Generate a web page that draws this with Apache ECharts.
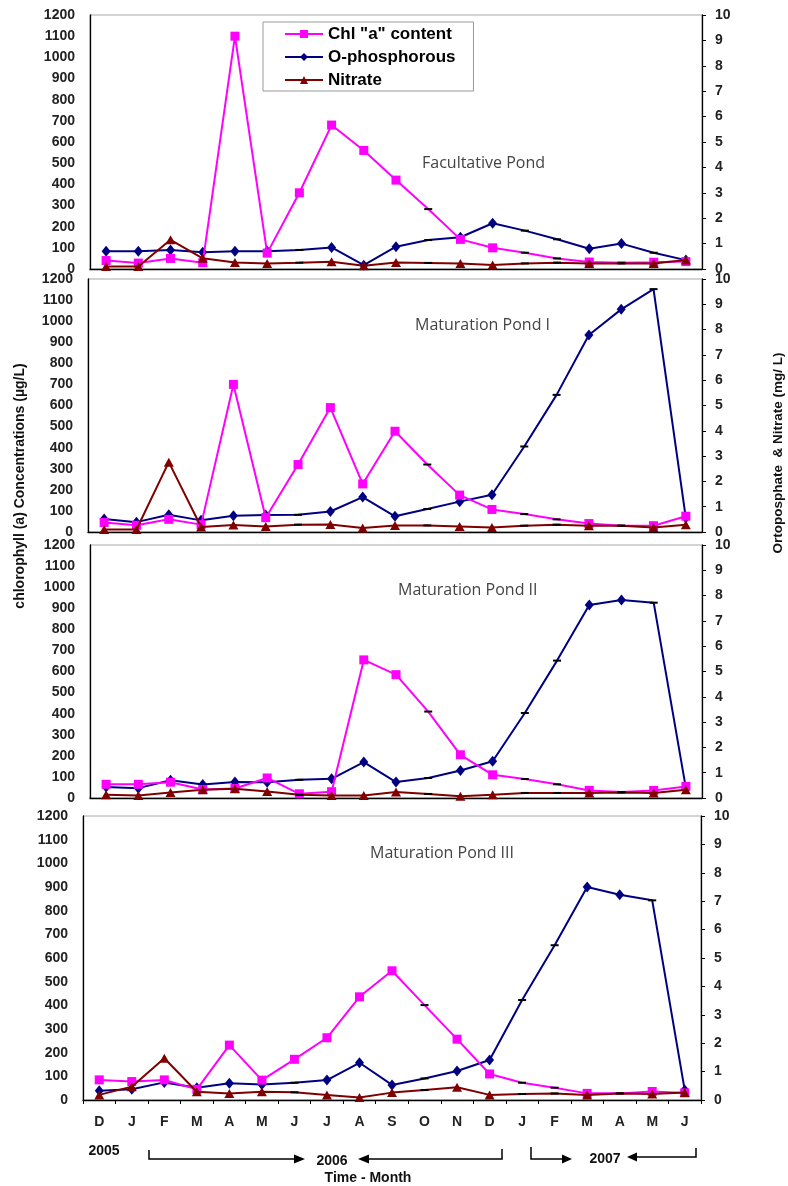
<!DOCTYPE html>
<html><head><meta charset="utf-8">
<script src="https://cdn.jsdelivr.net/npm/echarts@6/dist/echarts.min.js"></script>
<style>html,body{margin:0;padding:0;background:#fff}#c{width:788px;height:1186px}</style>
</head><body><div id="c"></div>
<script>
// ---- data ----
const months = ['D','J','F','M','A','M','J','J','A','S','O','N','D','J','F','M','A','M','J'];
const pondNames = ['Facultative Pond','Maturation Pond I','Maturation Pond II','Maturation Pond III'];
const seriesNames = ['Chl "a" content','O-phosphorous','Nitrate'];

const chlFac  = [40, 28, 50, 30, 1100, 75, 360, 680, 560, 420, 283, 140, 100, 77, 50, 33, 30, 32, 35];
const phosFac = [0.7, 0.7, 0.75, 0.66, 0.7, 0.7, 0.75, 0.85, 0.15, 0.88, 1.14, 1.25, 1.8, 1.51, 1.17, 0.8, 1.0, 0.64, 0.35];
const nitFac  = [0.1, 0.1, 1.15, 0.42, 0.26, 0.22, 0.25, 0.29, 0.13, 0.26, 0.24, 0.22, 0.16, 0.22, 0.25, 0.22, 0.22, 0.22, 0.35];

const chlM1  = [45, 32, 60, 35, 700, 68, 320, 590, 228, 478, 320, 175, 107, 85, 60, 40, 30, 30, 75];
const phosM1 = [0.51, 0.39, 0.68, 0.46, 0.64, 0.67, 0.68, 0.81, 1.38, 0.62, 0.91, 1.2, 1.47, 3.38, 5.42, 7.79, 8.8, 9.6, 0.55];
const nitM1  = [0.1, 0.1, 2.76, 0.2, 0.28, 0.22, 0.29, 0.3, 0.16, 0.26, 0.26, 0.22, 0.18, 0.25, 0.29, 0.25, 0.25, 0.18, 0.29];

const chlM2  = [65, 65, 75, 40, 45, 95, 20, 30, 655, 585, 410, 205, 110, 90, 65, 36, 28, 36, 55];
const phosM2 = [0.43, 0.39, 0.7, 0.53, 0.63, 0.62, 0.72, 0.76, 1.42, 0.63, 0.79, 1.09, 1.45, 3.36, 5.43, 7.63, 7.83, 7.72, 0.39];
const nitM2  = [0.13, 0.1, 0.22, 0.33, 0.37, 0.26, 0.13, 0.1, 0.1, 0.24, 0.16, 0.07, 0.13, 0.2, 0.2, 0.2, 0.22, 0.2, 0.33];

const chlM3  = [85, 78, 85, 45, 232, 84, 172, 263, 436, 546, 401, 257, 110, 73, 52, 28, 28, 36, 30];
const phosM3 = [0.33, 0.38, 0.62, 0.43, 0.59, 0.55, 0.61, 0.7, 1.31, 0.53, 0.76, 1.02, 1.41, 3.52, 5.45, 7.5, 7.23, 7.03, 0.35];
const nitM3  = [0.18, 0.47, 1.47, 0.29, 0.23, 0.29, 0.27, 0.18, 0.09, 0.26, 0.35, 0.45, 0.18, 0.21, 0.23, 0.18, 0.23, 0.21, 0.26];

// months without a measurement (drawn by the original as small dashes on the line)
const chlGapMonths  = [10, 13, 14, 16];
const phosGapMonths = [6, 10, 13, 14, 17];
const nitGapMonths  = [6, 10, 13, 14, 16];

const pondData = [
  [chlFac, phosFac, nitFac],
  [chlM1, phosM1, nitM1],
  [chlM2, phosM2, nitM2],
  [chlM3, phosM3, nitM3]
];

// ---- layout / style ----
const FONT = '"Liberation Sans", Arial, sans-serif';
const gridBoxes = [
  {left: 90, top: 15,  width: 612, height: 254},
  {left: 88, top: 279, width: 614, height: 253},
  {left: 90, top: 545, width: 612, height: 253},
  {left: 83, top: 816, width: 618, height: 284}
];
const titlePos = [[422, 163], [415, 325], [398, 590], [370, 853]];
const styles = [
  {color: '#FF00FF', symbol: 'rect', size: 9, gaps: chlGapMonths, axis: 0, z: 3},
  {color: '#000080', symbol: 'diamond', size: [9, 11], gaps: phosGapMonths, axis: 1, z: 2},
  {color: '#800000', symbol: 'triangle', size: [10, 9], gaps: nitGapMonths, axis: 1, z: 4}
];
const plain = v => String(v);

const grid = [], xAxis = [], yAxis = [], series = [];
gridBoxes.forEach((g, p) => {
  grid.push(Object.assign({show: true, borderColor: '#a8a8a8', borderWidth: 1, backgroundColor: 'transparent'}, g));
  const last = p === 3;
  xAxis.push({
    type: 'category', gridIndex: p, data: months, boundaryGap: true,
    axisLine: {lineStyle: {color: '#000', width: 1.3}},
    axisTick: {show: last, interval: 0, length: 4, lineStyle: {color: '#000'}},
    axisLabel: {show: last, interval: 0, margin: 15, fontFamily: FONT, fontWeight: 'bold', fontSize: 14, color: '#222'},
    splitLine: {show: false}
  });
  yAxis.push({
    type: 'value', gridIndex: p, position: 'left', min: 0, max: 1200, interval: 100,
    axisLine: {show: true, lineStyle: {color: '#000', width: 1.3}},
    axisTick: {show: false},
    axisLabel: {margin: 15, formatter: plain, fontFamily: FONT, fontWeight: 'bold', fontSize: 14, color: '#222'},
    splitLine: {show: false}
  });
  yAxis.push({
    type: 'value', gridIndex: p, position: 'right', min: 0, max: 10, interval: 1,
    axisLine: {show: true, lineStyle: {color: '#000', width: 1.3}},
    axisTick: {show: true, length: 4, lineStyle: {color: '#000'}},
    axisLabel: {margin: 13, formatter: plain, fontFamily: FONT, fontWeight: 'bold', fontSize: 14, color: '#222'},
    splitLine: {show: false}
  });
  pondData[p].forEach((vals, s) => {
    const st = styles[s];
    series.push({
      name: seriesNames[s], type: 'line',
      xAxisIndex: p, yAxisIndex: p * 2 + st.axis,
      z: st.z, showAllSymbol: true,
      symbol: st.symbol, symbolSize: st.size,
      lineStyle: {color: st.color, width: 2},
      itemStyle: {color: st.color, borderWidth: 0},
      emphasis: {disabled: true},
      data: vals.map((v, i) => st.gaps.includes(i)
        ? {value: v, symbol: 'rect', symbolSize: [8, 2], itemStyle: {color: '#000'}}
        : v)
    });
  });
});

const txt = (x, y, text, font, extra) => Object.assign({
  type: 'text', x: x, y: y, z: 20,
  style: {text: text, font: font, fill: '#111', align: 'center', verticalAlign: 'middle',
          textAlign: 'center', textVerticalAlign: 'middle'}
}, extra || {});
const graphic = [];
pondNames.forEach((n, p) => {
  graphic.push({type: 'text', x: titlePos[p][0], y: titlePos[p][1], z: 20,
    style: {text: n, font: '16px "Open Sans"', fill: '#444', align: 'left', verticalAlign: 'middle',
            textAlign: 'left', textVerticalAlign: 'middle'}});
});
graphic.push(txt(20, 486, 'chlorophyll (a) Concentrations (µg/L)', 'bold 14px ' + FONT, {rotation: Math.PI / 2}));
graphic.push(txt(778, 453, 'Ortoposphate  & Nitrate (mg/ L)', 'bold 13.5px ' + FONT, {rotation: Math.PI / 2}));
graphic.push(txt(104, 1151, '2005', 'bold 14px ' + FONT));
graphic.push(txt(332, 1161, '2006', 'bold 14px ' + FONT));
graphic.push(txt(605, 1159, '2007', 'bold 14px ' + FONT));
graphic.push(txt(368, 1178, 'Time - Month', 'bold 14px ' + FONT));
const line = pts => ({type: 'polyline', z: 20, shape: {points: pts}, style: {stroke: '#000', lineWidth: 1.5, fill: null}});
const head = pts => ({type: 'polygon', z: 20, shape: {points: pts}, style: {fill: '#000'}});
graphic.push(line([[149, 1150], [149, 1159], [297, 1159]]), head([[305, 1159], [294, 1154.5], [294, 1163.5]]));
graphic.push(line([[502, 1149], [502, 1159], [366, 1159]]), head([[358, 1159], [369, 1154.5], [369, 1163.5]]));
graphic.push(line([[531, 1147], [531, 1159], [564, 1159]]), head([[572, 1159], [562, 1154.5], [562, 1163.5]]));
graphic.push(line([[696, 1148], [696, 1157], [635, 1157]]), head([[627, 1157], [637, 1152.5], [637, 1161.5]]));

const option = {
  animation: false,
  backgroundColor: '#fff',
  grid, xAxis, yAxis, series, graphic,
  legend: {
    data: seriesNames, orient: 'vertical', left: 263, top: 22,
    padding: [3, 18, 2, 21], itemGap: 5, itemWidth: 38, itemHeight: 10,
    borderColor: '#999', borderWidth: 1, backgroundColor: '#fff',
    selectedMode: false, z: 30,
    textStyle: {fontFamily: FONT, fontWeight: 'bold', fontSize: 17, color: '#000', lineHeight: 18}
  }
};
echarts.init(document.getElementById('c')).setOption(option);
</script></body></html>
